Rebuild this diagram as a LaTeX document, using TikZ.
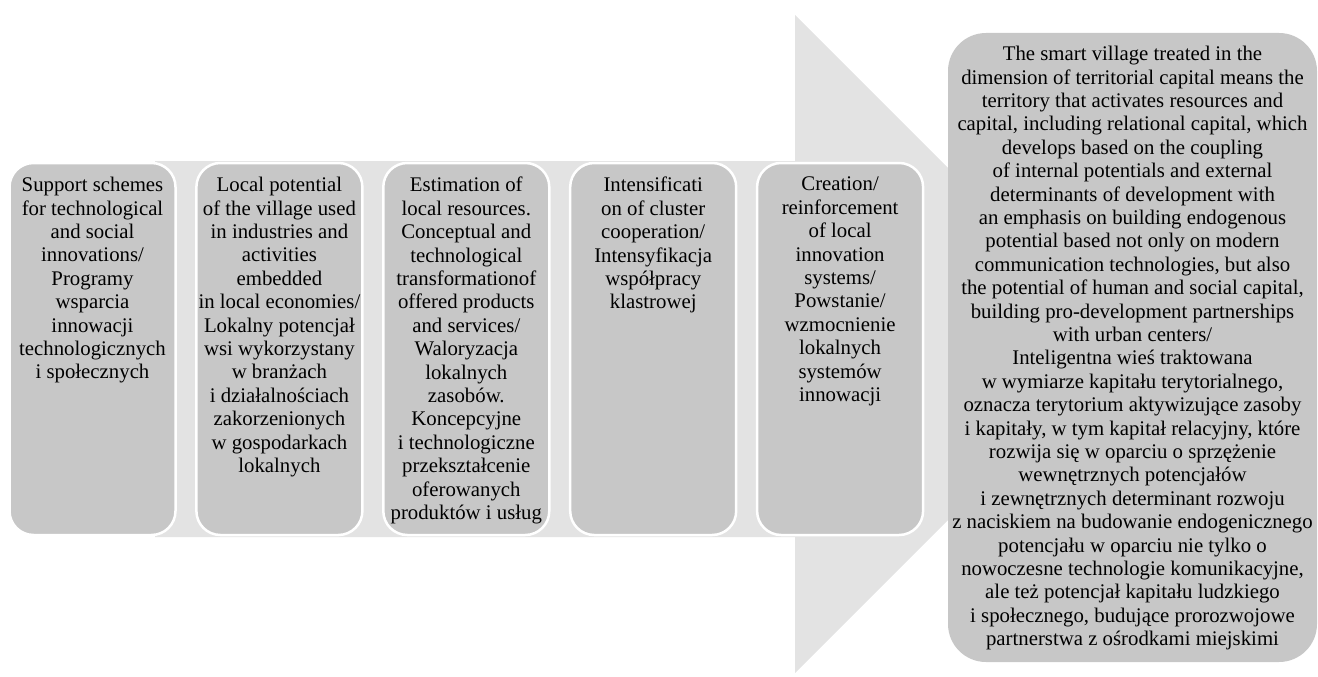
\documentclass[tikz,border=0pt]{standalone}
\usepackage{fontspec}
\setmainfont{Liberation Serif}
\definecolor{boxgray}{HTML}{C7C7C7}
\definecolor{bandgray}{HTML}{E3E3E3}
\tikzset{
  stepbox/.style={rectangle, rounded corners=24pt, fill=boxgray, draw=white, line width=2.5pt,
    minimum width=166pt, minimum height=372pt, inner sep=0pt},
  bigbox/.style={rectangle, rounded corners=38pt, fill=boxgray, draw=none,
    minimum width=369pt, minimum height=629pt, inner sep=0pt},
  steptext/.style={anchor=north, align=center, inner sep=0pt,
    font=\fontsize{20.8pt}{23.4pt}\selectfont}
}
\begin{document}
\begin{tikzpicture}[x=1pt,y=-1pt]
\useasboundingbox (0,0) rectangle (1318,677);
% big arrow background
\fill[bandgray] (155,161) -- (795,161) -- (795,15) -- (1124,344) -- (795,673) -- (795,537) -- (155,537) -- cycle;
% step boxes
\node[stepbox] (b1) at (92.5,349) {};
\node[stepbox] (b2) at (279.4,349) {};
\node[stepbox] (b3) at (466.3,349) {};
\node[stepbox] (b4) at (653.2,349) {};
\node[stepbox] (b5) at (840.1,349) {};
\node[bigbox] (r) at (1132.5,347.5) {};
% texts
\node[steptext] (t1) at (92.5,177) {Support schemes\\for technological\\and social\\innovations/\\Programy\\wsparcia\\innowacji\\technologicznych\\i społecznych};
\node[steptext] (t2) at (279.4,177) {Local potential\\of the village used\\in industries and\\activities\\embedded\\in local economies/\\Lokalny potencjał\\wsi wykorzystany\\w branżach\\i działalnościach\\zakorzenionych\\w gospodarkach\\lokalnych};
\node[steptext] (t3) at (466.3,177) {Estimation of\\local resources.\\Conceptual and\\technological\\transformationof\\offered products\\and services/\\Waloryzacja\\lokalnych\\zasobów.\\Koncepcyjne\\i technologiczne\\przekształcenie\\oferowanych\\produktów i usług};
\node[steptext] (t4) at (653.2,177) {Intensificati\\on of cluster\\cooperation/\\Intensyfikacja\\współpracy\\klastrowej};
\node[steptext] (t5) at (840.1,177) {Creation/\\reinforcement\\of local\\innovation\\systems/\\Powstanie/\\wzmocnienie\\lokalnych\\systemów\\innowacji};
\node[steptext] (tr) at (1132.5,46) {The smart village treated in the\\dimension of territorial capital means the\\territory that activates resources and\\capital, including relational capital, which\\develops based on the coupling\\of internal potentials and external\\determinants of development with\\an emphasis on building endogenous\\potential based not only on modern\\communication technologies, but also\\the potential of human and social capital,\\building pro-development partnerships\\with urban centers/\\Inteligentna wieś traktowana\\w wymiarze kapitału terytorialnego,\\oznacza terytorium aktywizujące zasoby\\i kapitały, w tym kapitał relacyjny, które\\rozwija się w oparciu o sprzężenie\\wewnętrznych potencjałów\\i zewnętrznych determinant rozwoju\\z naciskiem na budowanie endogenicznego\\potencjału w oparciu nie tylko o\\nowoczesne technologie komunikacyjne,\\ale też potencjał kapitału ludzkiego\\i społecznego, budujące prorozwojowe\\partnerstwa z ośrodkami miejskimi};
\end{tikzpicture}
\end{document}
